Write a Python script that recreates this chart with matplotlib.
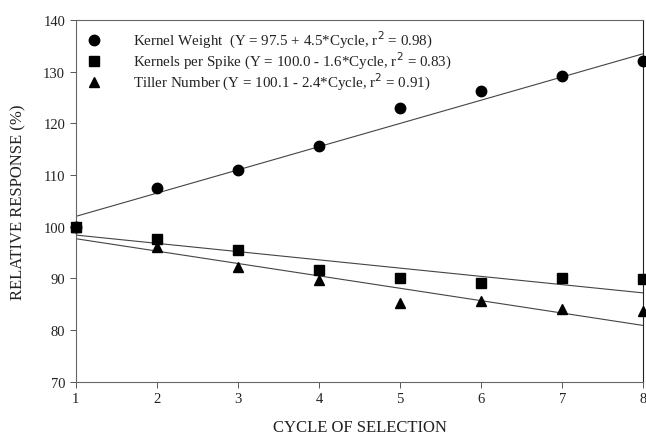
import matplotlib.pyplot as plt
import numpy as np

plt.rcParams['font.family'] = ['Liberation Serif', 'DejaVu Serif']

cycles = [1, 2, 3, 4, 5, 6, 7, 8]
kernel_weight = [100.0, 107.6, 111.0, 115.6, 123.0, 126.3, 129.2, 132.1]
kernels_per_spike = [100.0, 97.7, 95.5, 91.6, 90.0, 89.2, 90.1, 89.9]
tiller_number = [100.0, 96.0, 92.3, 89.7, 85.3, 85.6, 84.1, 83.7]

# fitted lines: intercept, slope, r^2
fits = {
    'kw': (97.5, 4.5, 0.98),
    'kps': (100.0, -1.6, 0.83),
    'tn': (100.1, -2.4, 0.91),
}

fig = plt.figure(figsize=(6.46, 4.39), dpi=100)
ax = fig.add_axes([0.117, 0.128, 0.879, 0.824])

xs = np.array([1, 8])
series = [
    ('kw', kernel_weight, 'o', 7.5, 'Kernel Weight  (Y = 97.5 + 4.5*Cycle, r$^2$ = 0.98)'),
    ('kps', kernels_per_spike, 's', 7, 'Kernels per Spike (Y = 100.0 - 1.6*Cycle, r$^2$ = 0.83)'),
    ('tn', tiller_number, '^', 7.5, 'Tiller Number (Y = 100.1 - 2.4*Cycle, r$^2$ = 0.91)'),
]
for key, vals, mk, ms, lab in series:
    a, b, r2 = fits[key]
    ax.plot(xs, a + b * xs, color='#444444', lw=0.8, zorder=2)
    ax.plot(cycles, vals, linestyle='none', marker=mk, ms=ms, color='black',
            label=lab, clip_on=False, zorder=3)

ax.set_xlim(1, 8)
ax.set_ylim(70, 140)
ax.set_xticks(cycles)
ax.set_yticks(range(70, 141, 10))
ax.tick_params(direction='out', length=4, width=0.7, colors='#555555',
               labelcolor='#222222', labelsize=10.5)
for s in ax.spines.values():
    s.set_color('#666666')
    s.set_linewidth(0.8)
ax.spines['right'].set_color('#222222')

ax.set_xlabel('CYCLE OF SELECTION', fontsize=12, color='#222222', labelpad=10)
ax.set_ylabel('RELATIVE RESPONSE (%)', fontsize=12, color='#222222', labelpad=12)

leg = ax.legend(loc='upper left', bbox_to_anchor=(0.0, 1.0), frameon=False,
                fontsize=10.8, handletextpad=1.9, labelspacing=0.0,
                borderaxespad=0.4, borderpad=0.2, handlelength=1.3)
for t in leg.get_texts():
    t.set_color('#222222')

fig.savefig('out.png', dpi=100)
